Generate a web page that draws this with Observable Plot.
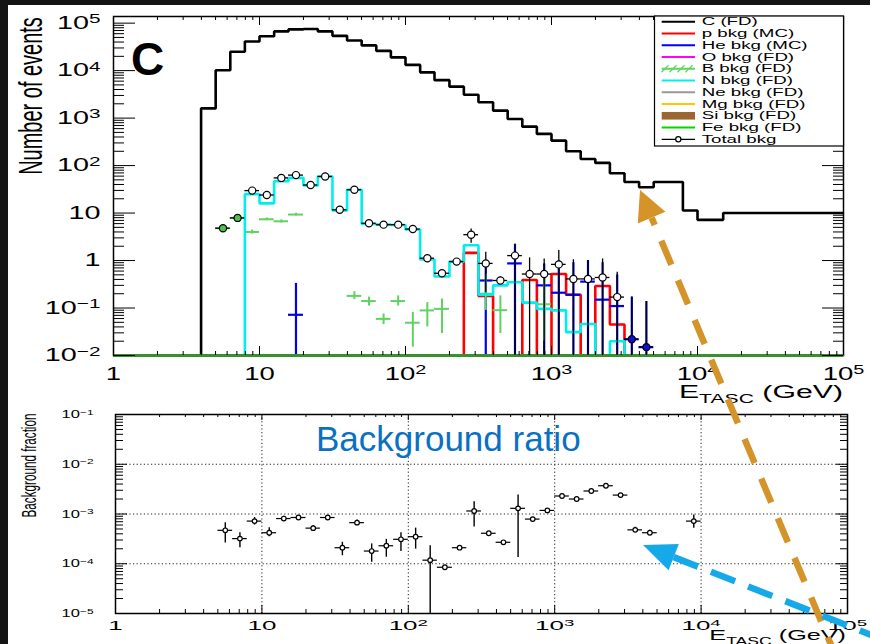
<!DOCTYPE html>
<html>
<head>
<meta charset="utf-8">
<script src="https://cdn.jsdelivr.net/npm/d3@7"></script>
<script src="https://cdn.jsdelivr.net/npm/@observablehq/plot@0.6"></script>
<style>
  html, body { margin: 0; padding: 0; background: #141414; }
  #page { position: relative; width: 870px; height: 644px; background: #141414; overflow: hidden; }
  #sheet { position: absolute; left: 8px; top: 5px; right: 0; bottom: 0; background: #fff; }
  .layer { position: absolute; left: 0; }
  svg text { font-family: "Liberation Sans", Arial, Helvetica, sans-serif; }
</style>
</head>
<body>
<div id="page">
  <div id="sheet"></div>
  <div id="top" class="layer" style="top:0"></div>
  <div id="bottom" class="layer" style="top:400px"></div>
  <svg id="notes" class="layer" style="top:0" width="870" height="644"></svg>
</div>
<script>
// ---------- energy axis (GeV) ----------
const xDomain = [1, 1e5];
const xTicks = [1, 10, 100, 1000, 1e4, 1e5];
const xTickLabels = ["1", "10", "10^2", "10^3", "10^4", "10^5"];

// ---------- upper panel: event counts ----------
const topYDomain = [0.01, 1.38e5];
const topYTicks = [0.01, 0.1, 1, 10, 100, 1000, 1e4, 1e5];
const topYTickLabels = ["10^\u22122", "10^\u22121", "1", "10", "10^2", "10^3", "10^4", "10^5"];

// C (FD) spectrum: bin edges (GeV) and counts per bin
const cEdges = [1, 3.98, 5.01, 6.31, 7.94, 10, 12.6, 15.8, 20.0, 25.1, 31.6, 39.8, 50.1, 63.1, 79.4,
  100, 126, 158, 200, 251, 316, 398, 501, 631, 794, 1000, 1259, 1585, 1995, 2512, 3162, 3981,
  5012, 7943, 10000, 15000, 100000];
const cCounts = [0, 1600, 10200, 25000, 41000, 53000, 67000, 74000, 75000, 67000, 54000, 43000,
  34000, 26000, 19000, 13200, 9200, 6300, 4600, 3100, 2150, 1440, 960, 660, 465, 335, 200, 138,
  114, 69, 45, 35, 45, 11.3, 7.2, 10];

// background bins (GeV)
const bkgEdges = [5.01, 6.31, 7.94, 10, 12.6, 15.8, 20.0, 25.1, 31.6, 39.8, 50.1, 63.1, 79.4, 100,
  126, 158, 200, 251, 316, 398, 501, 631, 794, 1000, 1259, 1585, 1995, 2512, 3162, 3981, 5012];

// N bkg (FD)
const nCounts = [0, 0, 25, 16, 47, 55, 38, 59, 11.3, 31, 5.9, 5.7, 5.6, 4.5, 1.05, 0.46, 0.95, 2.1,
  0.19, 0.30, 0.35, 0.13, 0.096, 0.089, 0.031, 0.046, 0, 0.020, 0, 0];
// p bkg (MC)
const pCounts = [0, 0, 0, 0, 0, 0, 0, 0, 0, 0, 0, 0, 0, 0, 0, 0, 0, 1.45, 0.18, 0, 0, 0.39, 0, 0.52,
  0.19, 0, 0.29, 0.045, 0, 0];
// He bkg (MC), with upper end of its error bar (lower end at zero)
const heVals = [0, 0, 0, 0, 0, 0.072, 0, 0, 0, 0, 0, 0, 0, 0, 0, 0, 0, 0, 0.38, 0, 0.87, 0, 0.30,
  0.21, 0.19, 0.36, 0.15, 0.11, 0.022, 0.015];
const heHi = [0, 0, 0, 0, 0, 0.33, 0, 0, 0, 0, 0, 0, 0, 0, 0, 0, 0, 0, 0.95, 0, 2.2, 0, 0.85, 1.0,
  0.9, 1.0, 0.9, 0.5, 0.17, 0.137];
// B bkg (FD), with error bar ends
const bVals = [4.8, 7.9, 4.0, 7.4, 6.7, 9.3, 0, 0, 0, 0.18, 0.14, 0.059, 0.14, 0.049, 0.089, 0.096,
  0, 0, 0.2, 0.09, 0, 0, 0.12, 0, 0, 0, 0, 0, 0, 0];
const bLo = [4.4, 7.3, 3.6, 6.9, 6.2, 8.7, 0, 0, 0, 0.15, 0.11, 0.045, 0.11, 0.015, 0.04, 0.029,
  0, 0, 0.089, 0.029, 0, 0, 0.02, 0, 0, 0, 0, 0, 0, 0];
const bHi = [5.2, 8.5, 4.4, 7.9, 7.2, 9.9, 0, 0, 0, 0.22, 0.17, 0.075, 0.18, 0.081, 0.13, 0.155,
  0, 0, 0.52, 0.18, 0, 0, 0.45, 0, 0, 0, 0, 0, 0, 0];
// Total bkg, with error bar ends
const totVals = [4.8, 7.9, 29.7, 24, 55, 63, 39, 59, 11.7, 31, 6.1, 5.7, 5.7, 4.6, 1.12, 0.54, 0.95,
  3.5, 0.87, 0.38, 1.27, 0.52, 0.52, 0.83, 0.41, 0.41, 0.44, 0.17, 0.022, 0.015];
const totLo = [4.4, 7.3, 28.6, 23, 53.5, 61.5, 38, 57.5, 11.2, 30, 5.8, 5.4, 5.4, 4.3, 1.0, 0.49,
  0.85, 2.3, 0.21, 0.32, 0, 0, 0, 0, 0, 0, 0, 0, 0, 0];
const totHi = [5.2, 8.5, 30.8, 25, 56.5, 64.5, 40, 60.5, 12.2, 32, 6.4, 6.0, 6.0, 4.9, 1.25, 0.6,
  1.05, 4.6, 1.49, 0.45, 2.2, 1.14, 1.08, 1.62, 1.04, 1.0, 1.08, 0.57, 0.17, 0.137];

// legend
const legendLabels = ["C (FD)", "p bkg (MC)", "He bkg (MC)", "O bkg (FD)", "B bkg (FD)", "N bkg (FD)",
  "Ne bkg (FD)", "Mg bkg (FD)", "Si bkg (FD)", "Fe bkg (FD)", "Total bkg"];
const legendColors = ["#000000", "#ff0000", "#0000ff", "#ff00ff", "#5fd35f", "#00f0f0",
  "#999999", "#ffc800", "#9a6632", "#00d800", "#000000"];
const legendKinds = ["line", "line", "line", "line", "hatch", "line", "line", "line", "box", "line", "marker"];

// ---------- lower panel: background fraction ----------
const botYDomain = [1e-5, 1e-1];
const botYTicks = [1e-5, 1e-4, 1e-3, 1e-2, 1e-1];
const botYTickLabels = ["10^\u22125", "10^\u22124", "10^\u22123", "10^\u22122", "10^\u22121"];
const ratioVals = [4.7e-4, 3.2e-4, 7.2e-4, 4.2e-4, 8.1e-4, 8.5e-4, 5.2e-4, 8.5e-4, 2.1e-4, 6.7e-4,
  1.8e-4, 2.3e-4, 3.1e-4, 3.5e-4, 1.18e-4, 8.5e-5, 2.1e-4, 1.15e-3, 4.1e-4, 2.7e-4, 1.3e-3, 7.9e-4,
  1.18e-3, 2.3e-3, 2.0e-3, 2.9e-3, 3.7e-3, 2.4e-3, 4.8e-4, 4.2e-4, 7.2e-4];
const ratioLo = [2.6e-4, 2.1e-4, 6.0e-4, 3.5e-4, 7.3e-4, 7.7e-4, 4.6e-4, 7.7e-4, 1.45e-4, 5.9e-4,
  1.07e-4, 1.35e-4, 1.77e-4, 1.97e-4, 0, 8.0e-5, 2.0e-4, 5.5e-4, 3.9e-4, 2.6e-4, 1.34e-4, 7.6e-4,
  1.14e-3, 2.2e-3, 1.93e-3, 2.8e-3, 3.6e-3, 2.3e-3, 4.3e-4, 3.8e-4, 5.2e-4];
const ratioHi = [6.7e-4, 4.2e-4, 8.5e-4, 5.3e-4, 9.0e-4, 9.3e-4, 5.9e-4, 9.3e-4, 2.7e-4, 7.6e-4,
  2.5e-4, 3.1e-4, 4.2e-4, 5.2e-4, 2.3e-4, 9.0e-5, 2.2e-4, 1.76e-3, 4.3e-4, 2.8e-4, 2.4e-3, 8.2e-4,
  1.22e-3, 2.4e-3, 2.07e-3, 3.0e-3, 3.8e-3, 2.5e-3, 5.4e-4, 4.7e-4, 9.5e-4];
const ratioBinLo = [...bkgEdges.slice(0, -1), 7943];
const ratioBinHi = [...bkgEdges.slice(1), 10000];

// ---------- helpers ----------
const FONT = '"Liberation Sans", Arial, Helvetica, sans-serif';

function outline(edges, counts) {
  // histogram outline across the whole axis, empty bins lie on the floor
  const pts = [];
  if (edges[0] > xDomain[0]) pts.push({x: xDomain[0], n: 0}, {x: edges[0], n: 0});
  counts.forEach((n, i) => pts.push({x: edges[i], n}, {x: edges[i + 1], n}));
  const last = edges[edges.length - 1];
  if (last < xDomain[1]) pts.push({x: last, n: 0}, {x: xDomain[1], n: 0});
  return pts;
}

function minorTicks([lo, hi]) {
  const out = [];
  for (let e = Math.floor(Math.log10(lo)); e < Math.ceil(Math.log10(hi)); e++)
    for (let k = 2; k <= 9; k++) { const v = k * 10 ** e; if (v > lo && v < hi) out.push(v); }
  return out;
}

function frameTicks(xDom, yDom, yMaj, W, H, len) {
  const xMin = minorTicks(xDom), yMin = minorTicks(yDom);
  const s = {stroke: "black", strokeWidth: 1};
  return [
    Plot.tickY(yMaj, {y: d => d, insetRight: W - len.left[0], ...s}),
    Plot.tickY(yMin, {y: d => d, insetRight: W - len.left[1], ...s}),
    Plot.tickY(yMaj, {y: d => d, insetLeft: W - len.right[0], ...s}),
    Plot.tickY(yMin, {y: d => d, insetLeft: W - len.right[1], ...s}),
    Plot.tickX(xTicks, {x: d => d, insetTop: H - len.bottom[0], ...s}),
    Plot.tickX(xMin, {x: d => d, insetTop: H - len.bottom[1], ...s}),
    Plot.tickX(xTicks, {x: d => d, insetBottom: H - len.top[0], ...s}),
    Plot.tickX(xMin, {x: d => d, insetBottom: H - len.top[1], ...s})
  ];
}

function labelMap(values, labels) { const m = new Map(values.map((v, i) => [v, labels[i]])); return d => m.get(d); }

// tick labels: exponent as raised tspan, glyphs widened horizontally
function finishTickText(svg, selector, sx) {
  svg.selectAll(selector).each(function () {
    const el = d3.select(this);
    const s = this.textContent;
    if (s.includes("^")) {
      const [base, exp] = s.split("^");
      el.text(base);
      el.append("tspan").attr("dy", "-0.42em").attr("font-size", "72%").text(exp);
    }
    const x = +el.attr("x") || 0;
    const t = el.attr("transform") || "";
    el.attr("x", null).attr("transform", `${t} translate(${x},0) scale(${sx},1)`);
  });
}

function energyTitle(svg, x, y, size, sx) {
  const t = svg.append("text")
    .attr("transform", `translate(${x},${y}) scale(${sx},1)`)
    .attr("text-anchor", "end").attr("font-size", size).attr("fill", "black");
  t.append("tspan").text("E");
  t.append("tspan").attr("dy", size * 0.3).attr("font-size", size * 0.7).text("TASC");
  t.append("tspan").attr("dy", -size * 0.3).text(" (GeV)");
}

const floorTop = topYDomain[0];
const yTop = d => Math.max(d, floorTop);

// ---------- upper panel ----------
const topW = 870, topH = 400, topM = {t: 16, r: 27, b: 45, l: 113};
const topIW = topW - topM.l - topM.r, topIH = topH - topM.t - topM.b;

const bins = totVals.map((tot, i) => ({
  lo: bkgEdges[i], hi: bkgEdges[i + 1], c: Math.sqrt(bkgEdges[i] * bkgEdges[i + 1]),
  tot, totLo: totLo[i], totHi: totHi[i],
  he: heVals[i], heHi: heHi[i],
  b: bVals[i], bLo: bLo[i], bHi: bHi[i]
}));
const heBins = bins.filter(d => d.he > 0);
const bBins = bins.filter(d => d.b > 0);
const histStyle = {x: "x", y: d => yTop(d.n), strokeWidth: 2.6, strokeLinejoin: "miter", strokeLinecap: "butt"};

const topPlot = Plot.plot({
  width: topW, height: topH,
  marginTop: topM.t, marginRight: topM.r, marginBottom: topM.b, marginLeft: topM.l,
  style: {background: "transparent", fontFamily: FONT, overflow: "visible"},
  x: {type: "log", domain: xDomain},
  y: {type: "log", domain: topYDomain},
  marks: [
    Plot.frame({stroke: "black", strokeWidth: 1.5}),
    Plot.line(outline(cEdges, cCounts), {...histStyle, stroke: "#000000"}),
    Plot.line(outline(bkgEdges, pCounts), {...histStyle, stroke: "#ff0000"}),
    Plot.ruleX(heBins, {x: "c", y1: floorTop, y2: "heHi", stroke: "#0000ee", strokeWidth: 2.2}),
    Plot.ruleY(heBins, {y: "he", x1: "lo", x2: "hi", stroke: "#0000ee", strokeWidth: 2.2}),
    Plot.ruleX(bBins, {x: "c", y1: d => yTop(d.bLo), y2: "bHi", stroke: "#5fd35f", strokeWidth: 2}),
    Plot.ruleY(bBins, {y: "b", x1: "lo", x2: "hi", stroke: "#5fd35f", strokeWidth: 2}),
    Plot.line(outline(bkgEdges, nCounts), {...histStyle, stroke: "#00eeee"}),
    // empty O, Ne, Mg, Si, Fe histograms lie on the floor
    Plot.ruleY([floorTop], {stroke: "#3a8f2e", strokeWidth: 3.2}),
    Plot.ruleX(bins, {x: "c", y1: d => yTop(d.totLo), y2: "totHi", stroke: "black", strokeWidth: 1.3}),
    Plot.ruleY(bins, {y: "tot", x1: "lo", x2: "hi", stroke: "black", strokeWidth: 1.3}),
    Plot.dot(bins.filter(d => d.tot !== d.b && d.tot !== d.he), {x: "c", y: "tot", r: 3.6, fill: "white", stroke: "black", strokeWidth: 1.2}),
    Plot.dot(bins.filter(d => d.tot === d.b), {x: "c", y: "tot", r: 3.6, fill: "#4fbf4f", stroke: "black", strokeWidth: 1.2}),
    Plot.dot(bins.filter(d => d.tot === d.he), {x: "c", y: "tot", r: 3.6, fill: "#1010d0", stroke: "black", strokeWidth: 1.2}),
    ...frameTicks(xDomain, topYDomain, topYTicks, topIW, topIH, {left: [22, 11], right: [21, 10], bottom: [9, 4], top: [9, 4]}),
    Plot.axisX({ticks: xTicks, tickFormat: labelMap(xTicks, xTickLabels), tickSize: 0, tickPadding: 11, fontSize: 19, label: null}),
    Plot.axisY({ticks: topYTicks, tickFormat: labelMap(topYTicks, topYTickLabels), tickSize: 0, tickPadding: 13, fontSize: 18, label: null})
  ]
});
document.getElementById("top").appendChild(topPlot);
const topSvg = d3.select(topPlot);
finishTickText(topSvg, 'g[aria-label="x-axis tick label"] text', 1.45);
finishTickText(topSvg, 'g[aria-label="y-axis tick label"] text', 1.6);

energyTitle(topSvg, 843, 398, 18, 1.68);
topSvg.append("text")
  .attr("transform", "translate(42,96) scale(1.68,1) rotate(-90)")
  .attr("text-anchor", "middle").attr("font-size", 20).attr("fill", "black")
  .text("Number of events");

// legend box
const lg = topSvg.append("g").attr("text-anchor", "start");
lg.append("rect").attr("x", 654.5).attr("y", 16).attr("width", 189).attr("height", 130)
  .attr("fill", "white").attr("stroke", "black").attr("stroke-width", 1.2);
legendLabels.forEach((label, i) => {
  const y = 21.7 + i * 11.76, col = legendColors[i], kind = legendKinds[i];
  if (kind === "box") {
    lg.append("rect").attr("x", 661.7).attr("y", y - 3.8).attr("width", 33.3).attr("height", 7.6).attr("fill", col);
  } else {
    lg.append("line").attr("x1", 661.7).attr("x2", 695).attr("y1", y).attr("y2", y)
      .attr("stroke", col).attr("stroke-width", kind === "marker" ? 1.2 : 2);
    if (kind === "hatch") {
      [665, 673, 681, 689].forEach(hx => lg.append("line")
        .attr("x1", hx - 3.5).attr("y1", y + 3.5).attr("x2", hx + 3.5).attr("y2", y - 3.5)
        .attr("stroke", col).attr("stroke-width", 1.2));
    }
    if (kind === "marker") {
      lg.append("circle").attr("cx", 678.3).attr("cy", y).attr("r", 2.6)
        .attr("fill", "white").attr("stroke", col).attr("stroke-width", 1.2);
    }
  }
  lg.append("text").attr("transform", `translate(701.7,${y + 3.6}) scale(1.7,1)`)
    .attr("text-anchor", "start").attr("font-size", 11).attr("fill", "black").text(label);
});

// ---------- lower panel ----------
const botW = 870, botH = 244, botM = {t: 14, r: 23, b: 31, l: 115};
const botIW = botW - botM.l - botM.r, botIH = botH - botM.t - botM.b;
const floorBot = botYDomain[0];
const ratio = ratioVals.map((v, i) => ({
  v, lo: Math.max(ratioLo[i], floorBot), hi: ratioHi[i],
  xlo: ratioBinLo[i], xhi: ratioBinHi[i], c: Math.sqrt(ratioBinLo[i] * ratioBinHi[i])
}));
const gridX = xTicks.slice(1, -1), gridY = botYTicks.slice(1, -1);

const botPlot = Plot.plot({
  width: botW, height: botH,
  marginTop: botM.t, marginRight: botM.r, marginBottom: botM.b, marginLeft: botM.l,
  style: {background: "transparent", fontFamily: FONT, overflow: "visible"},
  x: {type: "log", domain: xDomain},
  y: {type: "log", domain: botYDomain},
  marks: [
    Plot.ruleX(gridX, {x: d => d, stroke: "#222", strokeWidth: 1, strokeDasharray: "1.2,2.4"}),
    Plot.ruleY(gridY, {y: d => d, stroke: "#222", strokeWidth: 1, strokeDasharray: "1.2,2.4"}),
    Plot.frame({stroke: "black", strokeWidth: 1.5}),
    Plot.ruleX(ratio, {x: "c", y1: "lo", y2: "hi", stroke: "black", strokeWidth: 1.4}),
    Plot.ruleY(ratio, {y: "v", x1: "xlo", x2: "xhi", stroke: "black", strokeWidth: 1.2}),
    Plot.dot(ratio, {x: "c", y: "v", r: 2.3, fill: "white", stroke: "black", strokeWidth: 1.2}),
    ...frameTicks(xDomain, botYDomain, botYTicks, botIW, botIH, {left: [12, 8], right: [11, 7], bottom: [8, 4], top: [6, 3]}),
    Plot.axisX({ticks: xTicks, tickFormat: labelMap(xTicks, xTickLabels), tickSize: 0, tickPadding: 7, fontSize: 13, label: null}),
    Plot.axisY({ticks: botYTicks, tickFormat: labelMap(botYTicks, botYTickLabels), tickSize: 0, tickPadding: 22, fontSize: 11, label: null})
  ]
});
document.getElementById("bottom").appendChild(botPlot);
const botSvg = d3.select(botPlot);
finishTickText(botSvg, 'g[aria-label="x-axis tick label"] text', 2.0);
finishTickText(botSvg, 'g[aria-label="y-axis tick label"] text', 1.5);
energyTitle(botSvg, 846, 240, 15, 1.68);
botSvg.append("text")
  .attr("transform", "translate(36,65.5) scale(1.8,1) rotate(-90)")
  .attr("text-anchor", "middle").attr("font-size", 11.7).attr("fill", "black")
  .text("Background fraction");

// ---------- annotations ----------
const notes = d3.select("#notes");
notes.append("text").attr("x", 131).attr("y", 75).attr("font-size", 46).attr("font-weight", "bold")
  .attr("fill", "black").text("C");
notes.append("text").attr("x", 316).attr("y", 451).attr("font-size", 35)
  .attr("fill", "#0a70c2").text("Background ratio");

function dashedArrow(g, tip, tail, color, headLen, headHalf, dash, offset) {
  const dx = tip[0] - tail[0], dy = tip[1] - tail[1], L = Math.hypot(dx, dy);
  const ux = dx / L, uy = dy / L;
  const base = [tip[0] - ux * headLen, tip[1] - uy * headLen];
  g.append("line").attr("x1", base[0]).attr("y1", base[1]).attr("x2", tail[0]).attr("y2", tail[1])
    .attr("stroke", color).attr("stroke-width", 6.5).attr("stroke-dasharray", dash)
    .attr("stroke-dashoffset", offset);
  const px = -uy * headHalf, py = ux * headHalf;
  g.append("polygon")
    .attr("points", `${tip[0]},${tip[1]} ${base[0] + px},${base[1] + py} ${base[0] - px},${base[1] - py}`)
    .attr("fill", color);
}
dashedArrow(notes, [640, 190], [834, 652], "#d4942a", 30, 15, "26 17", 18);
dashedArrow(notes, [643, 545], [884, 640], "#16a9ea", 33, 14, "26 14", 0);
</script>
</body>
</html>
